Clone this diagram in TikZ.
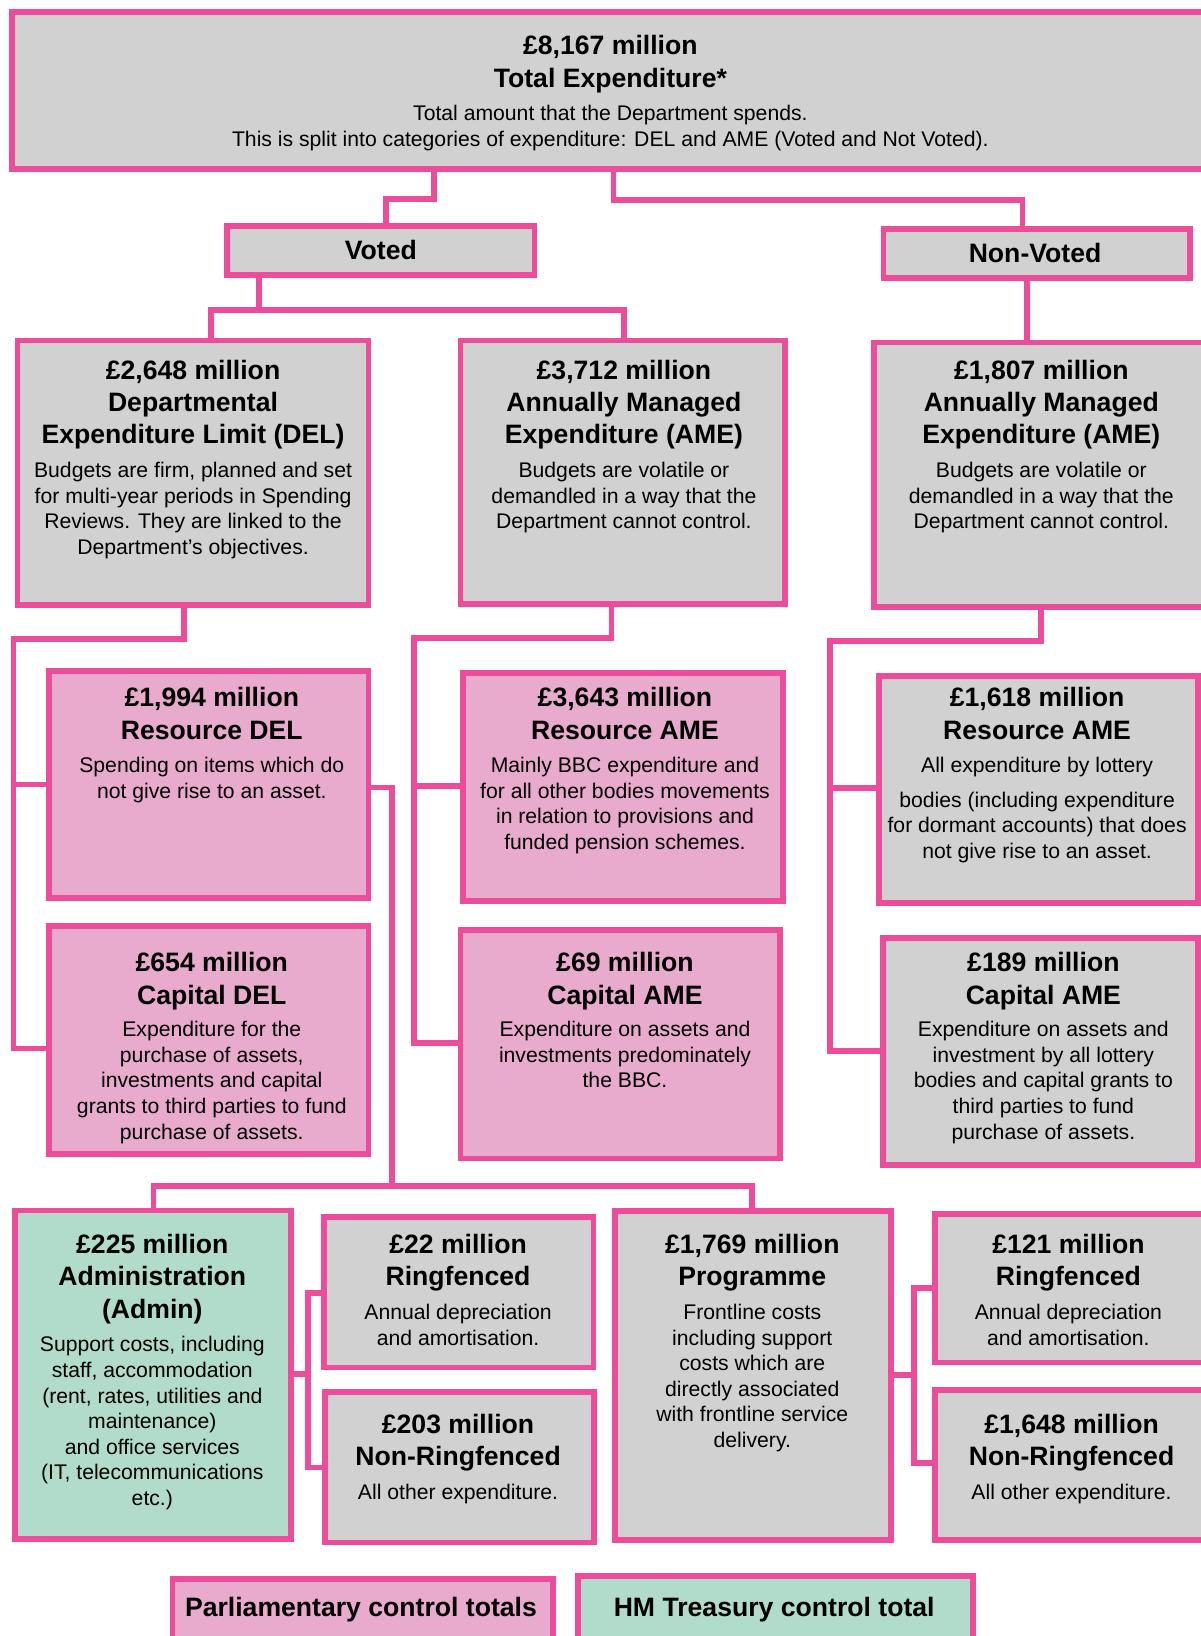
\documentclass[tikz,border=0pt]{standalone}
\usepackage{fontspec}
\setmainfont{Liberation Sans}
\definecolor{pinkline}{RGB}{236,76,154}
\definecolor{pinkfill}{RGB}{233,171,205}
\definecolor{greyfill}{RGB}{208,209,208}
\definecolor{greenfill}{RGB}{177,220,203}
\newcommand\mylines[1]{\vtop{\halign{\hfil##\hfil\cr#1\crcr}}}
\newcommand\hdfont{\fontsize{25.5}{31}\selectfont\bfseries}
\newcommand\bdfont{\fontsize{20.3}{24.5}\selectfont}
\newcommand\mkbox[6]{\node[pbox,fill=#2,minimum width={#5-#3-5.5},minimum height={#6-#4-5.5}] (#1) at ({#3+2.75},{#4+2.75}) {};}
\tikzset{
 pbox/.style={draw=pinkline,line width=5.5pt,inner sep=0pt,outer sep=0pt,anchor=north west,shape=rectangle},
 hd/.style={anchor=base,inner sep=0pt,outer sep=0pt,font=\hdfont,text=black},
 bd/.style={anchor=base,inner sep=0pt,outer sep=0pt,font=\bdfont,text=black},
 conn/.style={draw=pinkline,line width=5.5pt,line join=miter}
}
\begin{document}
\begin{tikzpicture}[x=1pt,y=-1pt]
\useasboundingbox (0,0) rectangle (1151,1568);
\clip (0,0) rectangle (1151,1568);
% boxes
\mkbox{total}{greyfill}{9}{9}{1220}{164.5}
\mkbox{voted}{greyfill}{215}{214}{515}{266.5}
\mkbox{nonvoted}{greyfill}{844}{217}{1143.5}{269.5}
\mkbox{del}{greyfill}{14}{323.5}{356}{582.5}
\mkbox{ame}{greyfill}{438.5}{323.5}{755}{581.5}
\mkbox{nvame}{greyfill}{835}{325.5}{1220}{584.5}
\mkbox{resdel}{pinkfill}{44.5}{640.5}{356}{863.5}
\mkbox{capdel}{pinkfill}{44.5}{884.5}{356}{1108.5}
\mkbox{resame}{pinkfill}{441}{642}{753}{866}
\mkbox{capame}{pinkfill}{438.5}{888.5}{750}{1113}
\mkbox{resamer}{greyfill}{839.5}{645}{1151}{868}
\mkbox{capamer}{greyfill}{843.5}{896}{1151}{1119.5}
\mkbox{admin}{greenfill}{11.5}{1157.5}{282}{1477.5}
\mkbox{rfa}{greyfill}{308}{1163.5}{571.5}{1313.5}
\mkbox{nrfa}{greyfill}{309}{1331.5}{572}{1481}
\mkbox{prog}{greyfill}{586.5}{1158}{857}{1479}
\mkbox{rfb}{greyfill}{893.5}{1161}{1220}{1308.5}
\mkbox{nrfb}{greyfill}{893.5}{1329.5}{1220}{1478.5}
\mkbox{legparl}{pinkfill}{162.5}{1510.5}{532.5}{1600}
\mkbox{leghm}{greenfill}{551.5}{1507.5}{935.5}{1600}
% texts
\node[hd] (totalH) at (585,52.5) {\mylines{£8,167 million\cr Total Expenditure*}};
\node[bd] (totalB) at (585,115.7) {\mylines{Total amount that the Department spends.\cr This is split into categories of expenditure: DEL and AME (Voted and Not Voted).}};
\node[hd] (votedT) at (365,249) {Voted};
\node[hd] (nonvotedT) at (992,252) {Non-Voted};
\node[hd] (delH) at (185,363.5) {\mylines{£2,648 million\cr Departmental\cr Expenditure Limit (DEL)}};
\node[bd] (delB) at (185,457.7) {\mylines{Budgets are firm, planned and set\cr for multi-year periods in Spending\cr Reviews. They are linked to the\cr Department’s objectives.}};
\node[hd] (ameH) at (598,363.5) {\mylines{£3,712 million\cr Annually Managed\cr Expenditure (AME)}};
\node[bd] (ameB) at (598,457.7) {\mylines{Budgets are volatile or\cr demandled in a way that the\cr Department cannot control.}};
\node[hd] (nvameH) at (998,363.5) {\mylines{£1,807 million\cr Annually Managed\cr Expenditure (AME)}};
\node[bd] (nvameB) at (998,457.7) {\mylines{Budgets are volatile or\cr demandled in a way that the\cr Department cannot control.}};
\node[hd] (resdelH) at (203,677.5) {\mylines{£1,994 million\cr Resource DEL}};
\node[bd] (resdelB) at (203,740.7) {\mylines{Spending on items which do\cr not give rise to an asset.}};
\node[hd] (capdelH) at (203,931.5) {\mylines{£654 million\cr Capital DEL}};
\node[bd] (capdelB) at (203,993.7) {\mylines{Expenditure for the\cr purchase of assets,\cr investments and capital\cr grants to third parties to fund\cr purchase of assets.}};
\node[hd] (resameH) at (599,677.5) {\mylines{£3,643 million\cr Resource AME}};
\node[bd] (resameB) at (599,740.7) {\mylines{Mainly BBC expenditure and\cr for all other bodies movements\cr in relation to provisions and\cr funded pension schemes.}};
\node[hd] (capameH) at (599,931.5) {\mylines{£69 million\cr Capital AME}};
\node[bd] (capameB) at (599,993.7) {\mylines{Expenditure on assets and\cr investments predominately\cr the BBC.}};
\node[hd] (resamerH) at (994,677.5) {\mylines{£1,618 million\cr Resource AME}};
\node[bd] (resamerB) at (994,740.7) {All expenditure by lottery};
\node[bd] (resamerC) at (994,773.7) {\mylines{bodies (including expenditure\cr for dormant accounts) that does\cr not give rise to an asset.}};
\node[hd] (capamerH) at (1000,931.5) {\mylines{£189 million\cr Capital AME}};
\node[bd] (capamerB) at (1000,993.7) {\mylines{Expenditure on assets and\cr investment by all lottery\cr bodies and capital grants to\cr third parties to fund\cr purchase of assets.}};
\node[hd] (adminH) at (146,1201.5) {\mylines{£225 million\cr Administration\cr (Admin)}};
\node[bd] (adminB) at (146,1295.7) {\mylines{Support costs, including\cr staff, accommodation\cr (rent, rates, utilities and\cr maintenance)\cr and office services\cr (IT, telecommunications\cr etc.)}};
\node[hd] (rfaH) at (439,1201.5) {\mylines{£22 million\cr Ringfenced}};
\node[bd] (rfaB) at (439,1264.7) {\mylines{Annual depreciation\cr and amortisation.}};
\node[hd] (nrfaH) at (439,1373.5) {\mylines{£203 million\cr Non-Ringfenced}};
\node[bd] (nrfaB) at (439,1436.7) {All other expenditure.};
\node[hd] (progH) at (721,1201.5) {\mylines{£1,769 million\cr Programme}};
\node[bd] (progB) at (721,1264.7) {\mylines{Frontline costs\cr including support\cr costs which are\cr directly associated\cr with frontline service\cr delivery.}};
\node[hd] (rfbH) at (1024,1201.5) {\mylines{£121 million\cr Ringfenced}};
\node[bd] (rfbB) at (1024,1264.7) {\mylines{Annual depreciation\cr and amortisation.}};
\node[hd] (nrfbH) at (1027,1373.5) {\mylines{£1,648 million\cr Non-Ringfenced}};
\node[bd] (nrfbB) at (1027,1436.7) {All other expenditure.};
\node[hd] (legparlT) at (346,1549.5) {Parliamentary control totals};
\node[hd] (leghmT) at (742,1549.5) {HM Treasury control total};
% connector corners
\coordinate (k1) at (416,191); \coordinate (k2) at (370,191);
\coordinate (k3) at (588,192); \coordinate (k4) at (980,192);
\coordinate (k5) at (248,297); \coordinate (k6) at (202,297); \coordinate (k7) at (598,297);
\coordinate (k8) at (984.5,0);
\coordinate (d1) at (176.5,612.5); \coordinate (d2) at (13,612.5); \coordinate (d3) at (13,1005); \coordinate (d4) at (13,752);
\coordinate (e1) at (586,611.5); \coordinate (e2) at (397,611.5); \coordinate (e3) at (397,999.5); \coordinate (e4) at (397,753.5);
\coordinate (f1) at (998,614.5); \coordinate (f2) at (795.5,614.5); \coordinate (f3) at (795.5,1007.5); \coordinate (f4) at (795.5,755);
\coordinate (g1) at (375.5,754.8); \coordinate (g2) at (375.5,1136.5); \coordinate (g3) at (147,1136.5); \coordinate (g4) at (721,1136.5);
\coordinate (h1) at (295,1317); \coordinate (h2) at (295,1239); \coordinate (h3) at (295,1406.5);
\coordinate (i1) at (876,1318); \coordinate (i2) at (876,1234.5); \coordinate (i3) at (876,1402.5);
% connectors
\draw[conn] (total.south -| k1) -- (k1) -- (k2) -- (voted.north -| k2);
\draw[conn] (total.south -| k3) -- (k3) -- (k4) -- (nonvoted.north -| k4);
\draw[conn] (voted.south -| k5) -- (k5);
\draw[conn] (del.north -| k6) -- (k6) -- (k7) -- (ame.north -| k7);
\draw[conn] (nonvoted.south -| k8) -- (nvame.north -| k8);
\draw[conn] (del.south -| d1) -- (d1) -- (d2) -- (d3) -- (capdel.west |- d3);
\draw[conn] (d4) -- (resdel.west |- d4);
\draw[conn] (ame.south -| e1) -- (e1) -- (e2) -- (e3) -- (capame.west |- e3);
\draw[conn] (e4) -- (resame.west |- e4);
\draw[conn] (nvame.south -| f1) -- (f1) -- (f2) -- (f3) -- (capamer.west |- f3);
\draw[conn] (f4) -- (resamer.west |- f4);
\draw[conn] (resdel.east |- g1) -- (g1) -- (g2);
\draw[conn] (admin.north -| g3) -- (g3) -- (g4) -- (prog.north -| g4);
\draw[conn] (admin.east |- h1) -- (h1);
\draw[conn] (rfa.west |- h2) -- (h2) -- (h3) -- (nrfa.west |- h3);
\draw[conn] (prog.east |- i1) -- (i1);
\draw[conn] (rfb.west |- i2) -- (i2) -- (i3) -- (nrfb.west |- i3);
\end{tikzpicture}
\end{document}
